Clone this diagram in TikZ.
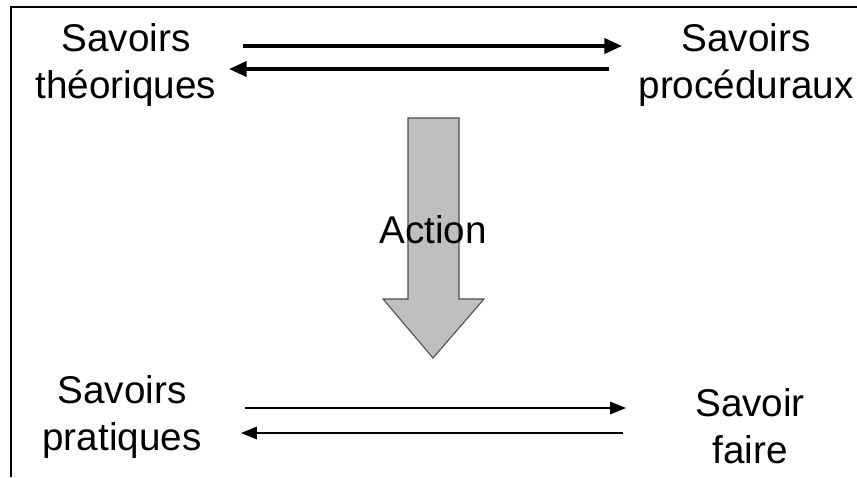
\documentclass[tikz,border=0pt]{standalone}
\usepackage{fontspec}
\setmainfont{Liberation Sans}
\usetikzlibrary{arrows.meta}
\tikzset{
  savoir/.style={inner sep=0pt,align=center,font=\fontsize{22}{26.5}\selectfont},
  fleche/.style={-{Triangle[length=10pt,width=8.5pt]},line width=2.2pt},
  fine/.style={-{Triangle[length=9pt,width=7pt]},line width=1.1pt}
}
\begin{document}
\begin{tikzpicture}[line join=miter,x=0.02cm,y=-0.02cm]
\useasboundingbox (0,0) rectangle (857,477);
\path
(243,46) coordinate (A)
(622,46) coordinate (B)
(609,69) coordinate (C)
(229,69) coordinate (D)
(245,408) coordinate (E)
(626,408) coordinate (F)
(623,433) coordinate (G)
(241,433) coordinate (H)
;
%
\draw[line width=1.2pt] (857,7)--(11,7)--(11,477);
\node[savoir] (theo) at (126,65) {Savoirs\\théoriques};
\node[savoir] (proc) at (746,65) {Savoirs\\procéduraux};
\node[savoir] (prat) at (122,417) {Savoirs\\pratiques};
\node[savoir] (faire) at (750,426) {Savoir\\faire};
\draw[fleche] (A)--(B);
\draw[fleche] (C)--(D);
\draw[fine] (E)--(F);
\draw[fine] (G)--(H);
\draw[fill=black!25,draw=black!70,line width=0.6pt]
(408,118)--(459,118)--(459,299)--(484,299)--(433,358)--(383,299)--(408,299)--cycle;
\node[savoir] (action) at (433,230) {Action};
\end{tikzpicture}
\end{document}
